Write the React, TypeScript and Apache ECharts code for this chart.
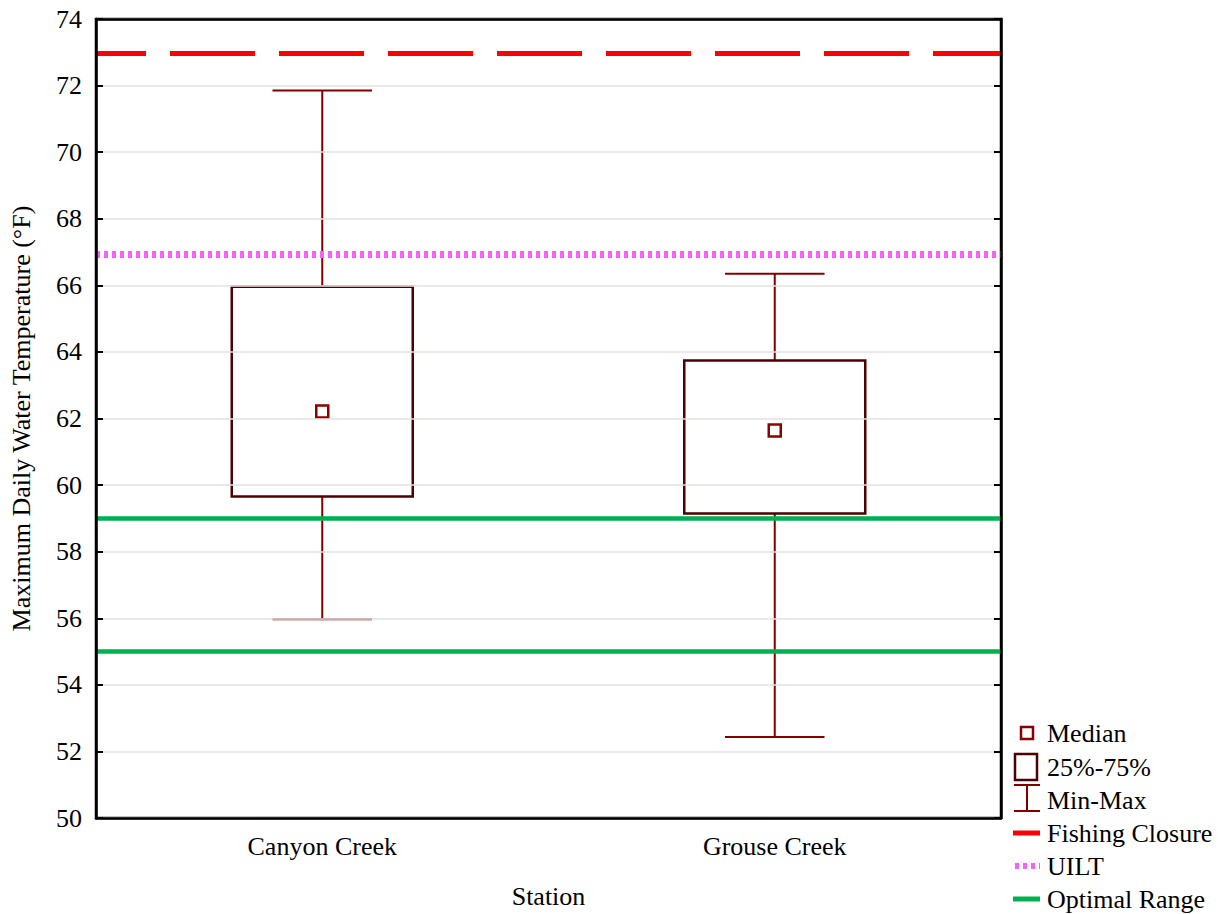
import React, { useEffect, useRef } from "react";
import * as echarts from "echarts";

const stations = ["Canyon Creek", "Grouse Creek"];
const minVals = [55.97, 52.43];
const q1Vals = [59.66, 59.15];
const medianVals = [62.21, 61.64];
const q3Vals = [65.96, 63.74];
const maxVals = [71.85, 66.35];
const fishingClosure = 72.96;
const uilt = 66.93;
const optimalRange = [55, 59];
const yTicks = [50, 74, 2];

const FONT = "Liberation Serif";
const FS = 26;
const BOX_COLOR = "#4a0303";
const WHISKER_COLOR = "#800000";
const MEDIAN_COLOR = "#8b0000";
const RED = "#ff0000";
const PINK = "#f464f4";
const GREEN = "#00b050";

export default function App() {
  const ref = useRef<HTMLDivElement>(null);
  useEffect(() => {
    const chart = echarts.init(ref.current!, null, { renderer: "svg" });
    const boxData = stations.map((_, i) => [i, minVals[i], q1Vals[i], medianVals[i], q3Vals[i], maxVals[i]]);

    const renderItem = (params: any, api: any) => {
      const idx = api.value(0);
      const pMin = api.coord([idx, api.value(1)]);
      const pQ1 = api.coord([idx, api.value(2)]);
      const pMed = api.coord([idx, api.value(3)]);
      const pQ3 = api.coord([idx, api.value(4)]);
      const pMax = api.coord([idx, api.value(5)]);
      const band = api.size([1, 0])[0];
      const bw = band * 0.4;
      const cw = band * 0.22;
      const x = pMed[0];
      const ws = { stroke: WHISKER_COLOR, lineWidth: 2 };
      return {
        type: "group",
        children: [
          { type: "line", shape: { x1: x, y1: pMax[1], x2: x, y2: pQ3[1] }, style: ws },
          { type: "line", shape: { x1: x, y1: pQ1[1], x2: x, y2: pMin[1] }, style: ws },
          { type: "line", shape: { x1: x - cw / 2, y1: pMax[1], x2: x + cw / 2, y2: pMax[1] }, style: ws },
          { type: "line", shape: { x1: x - cw / 2, y1: pMin[1], x2: x + cw / 2, y2: pMin[1] }, style: ws },
          {
            type: "rect",
            shape: { x: x - bw / 2, y: pQ3[1], width: bw, height: pQ1[1] - pQ3[1] },
            style: { fill: "#ffffff", stroke: BOX_COLOR, lineWidth: 2.5 },
          },
          {
            type: "rect",
            shape: { x: x - 6, y: pMed[1] - 6, width: 12, height: 12 },
            style: { fill: "#ffffff", stroke: MEDIAN_COLOR, lineWidth: 2.5 },
          },
        ],
      };
    };

    const lx1 = 1013;
    const lx2 = 1040;
    const lcx = 1027;
    const tx = 1047;
    const rows = [733, 767, 800, 833, 866, 899];
    const legendLabels = ["Median", "25%-75%", "Min-Max", "Fishing Closure", "UILT", "Optimal Range"];

    const graphic: any[] = [
      { type: "rect", shape: { x: lcx - 6, y: rows[0] - 6, width: 12, height: 12 }, style: { fill: "#fff", stroke: MEDIAN_COLOR, lineWidth: 2.5 } },
      { type: "rect", shape: { x: 1015, y: rows[1] - 13, width: 22, height: 26 }, style: { fill: "#fff", stroke: BOX_COLOR, lineWidth: 2.5 } },
      { type: "line", shape: { x1: 1014, y1: rows[2] - 15, x2: 1040, y2: rows[2] - 15 }, style: { stroke: WHISKER_COLOR, lineWidth: 2 } },
      { type: "line", shape: { x1: lcx, y1: rows[2] - 15, x2: lcx, y2: rows[2] + 11 }, style: { stroke: WHISKER_COLOR, lineWidth: 2 } },
      { type: "line", shape: { x1: 1014, y1: rows[2] + 11, x2: 1040, y2: rows[2] + 11 }, style: { stroke: WHISKER_COLOR, lineWidth: 2 } },
      { type: "line", shape: { x1: lx1, y1: rows[3], x2: lx2, y2: rows[3] }, style: { stroke: RED, lineWidth: 5 } },
      { type: "line", shape: { x1: lx1 + 2, y1: rows[4], x2: lx2, y2: rows[4] }, style: { stroke: PINK, lineWidth: 6, lineDash: [4, 4] } },
      { type: "line", shape: { x1: lx1, y1: rows[5], x2: lx2, y2: rows[5] }, style: { stroke: GREEN, lineWidth: 5 } },
      ...legendLabels.map((t, i) => ({
        type: "text",
        x: tx,
        y: rows[i],
        style: { text: t, fill: "#000", fontFamily: FONT, fontSize: FS, textVerticalAlign: "middle", textAlign: "left" },
      })),
    ];

    chart.setOption({
      animation: false,
      backgroundColor: "#ffffff",
      textStyle: { fontFamily: FONT },
      grid: { left: 93, right: 225, top: 19, bottom: 91, show: true, borderColor: "#000", borderWidth: 2.5, backgroundColor: "transparent" },
      xAxis: [
        {
          type: "category",
          data: stations,
          boundaryGap: true,
          name: "Station",
          nameLocation: "middle",
          nameGap: 65,
          nameTextStyle: { fontSize: FS, color: "#000", fontFamily: FONT },
          axisLine: { lineStyle: { color: "#000", width: 2.5 } },
          axisTick: { inside: true, alignWithLabel: true, length: 6, lineStyle: { color: "#000", width: 2 } },
          axisLabel: { fontSize: FS, color: "#000", margin: 15, fontFamily: FONT },
          splitLine: { show: false },
          z: 10,
        },
        {
          type: "category",
          data: stations,
          position: "top",
          axisLine: { show: true, lineStyle: { color: "#000", width: 2.5 } },
          axisTick: { show: false },
          axisLabel: { show: false },
          splitLine: { show: false },
          z: 10,
        },
      ],
      yAxis: [
        {
          type: "value",
          min: yTicks[0],
          max: yTicks[1],
          interval: yTicks[2],
          name: "Maximum Daily Water Temperature (°F)",
          nameLocation: "middle",
          nameGap: 62,
          nameTextStyle: { fontSize: FS, color: "#000", fontFamily: FONT },
          axisLine: { show: true, lineStyle: { color: "#000", width: 2.5 } },
          axisTick: { show: true, inside: true, length: 7, lineStyle: { color: "#000", width: 2 } },
          axisLabel: { fontSize: FS, color: "#000", margin: 14, fontFamily: FONT },
          splitLine: { show: true, lineStyle: { color: "#e2e2e2", width: 1.5 } },
          z: 10,
        },
        {
          type: "value",
          position: "right",
          min: yTicks[0],
          max: yTicks[1],
          interval: yTicks[2],
          axisLine: { show: true, lineStyle: { color: "#000", width: 2.5 } },
          axisTick: { show: true, inside: true, length: 7, lineStyle: { color: "#000", width: 2 } },
          axisLabel: { show: false },
          splitLine: { show: false },
          z: 10,
        },
      ],
      series: [
        {
          type: "custom",
          renderItem,
          data: boxData,
          encode: { x: 0, y: [1, 2, 3, 4, 5] },
          z: 2,
        },
        {
          type: "line",
          data: [],
          z: 5,
          silent: true,
          markLine: {
            silent: true,
            symbol: "none",
            label: { show: false },
            data: [
              { yAxis: fishingClosure, lineStyle: { color: RED, width: 5, type: [85, 24], dashOffset: 35 } },
              { yAxis: uilt, lineStyle: { color: PINK, width: 7, type: [4, 4] } },
              { yAxis: optimalRange[0], lineStyle: { color: GREEN, width: 4.5, type: "solid" } },
              { yAxis: optimalRange[1], lineStyle: { color: GREEN, width: 4.5, type: "solid" } },
            ],
          },
        },
      ],
      graphic,
    });
    return () => chart.dispose();
  }, []);
  return <div ref={ref} style={{ position: "absolute", left: 0, top: 0, width: 1226, height: 914 }} />;
}
